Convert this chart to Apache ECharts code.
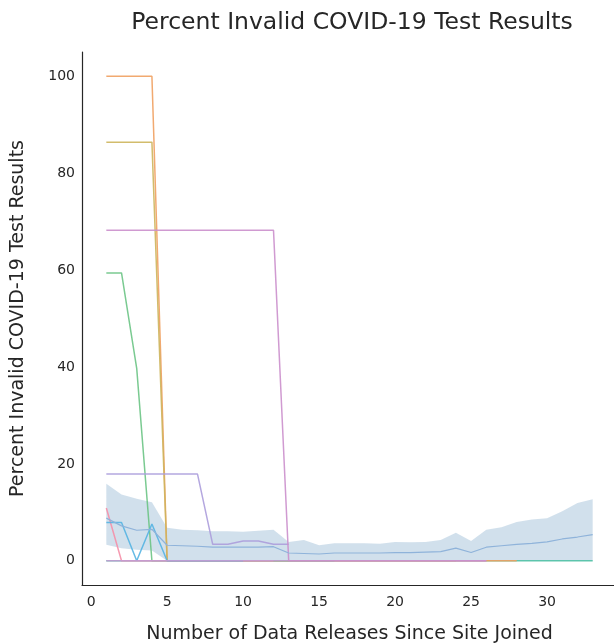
<!DOCTYPE html>
<html>
<head>
<meta charset="utf-8">
<script src="https://cdn.jsdelivr.net/npm/echarts@6/dist/echarts.min.js"></script>
<style>html,body{margin:0;padding:0;background:#fff}#c{width:614px;height:644px}</style>
</head>
<body>
<div id="c"></div>
<script>
// x positions: number of data releases since site joined
var releases = [1,2,3,4,5,6,7,8,9,10,11,12,13,14,15,16,17,18,19,20,21,22,23,24,25,26,27,28,29,30,31,32,33];
var xTicks = [0,5,10,15,20,25,30];
var yTicks = [0,20,40,60,80,100];

// aggregate line and its confidence band
var meanVals  = [8.8,7.2,6.3,6.5,3.2,3.1,3.0,2.8,2.8,2.8,2.8,2.9,1.6,1.5,1.4,1.6,1.6,1.6,1.6,1.7,1.7,1.8,1.9,2.6,1.7,2.8,3.1,3.4,3.6,3.9,4.5,4.9,5.4];
var upperVals = [15.9,13.7,12.8,12.1,6.8,6.4,6.3,6.1,6.1,6.0,6.2,6.4,3.9,4.3,3.2,3.6,3.6,3.6,3.5,3.9,3.8,3.9,4.3,5.8,4.1,6.4,6.9,8.0,8.5,8.8,10.2,11.9,12.7];
var lowerVals = [3.3,2.6,2.3,2.1,0,0,0,0,0,0,0,0,0,0,0,0,0,0,0,0,0,0,0,0,0,0,0,0,0,0,0,0,0];

// individual sites (null = not reported)
var siteTeal     = [0,0,0,0,0,0,0,0,0,0,0,0,0,0,0,0,0,0,0,0,0,0,0,0,0,0,0,0,0,0,0,0,0];
var siteOrange   = [100,100,100,100,0,0,0,0,0,0,0,0,0,0,0,0,0,0,0,0,0,0,0,0,0,0,0,0,null,null,null,null,null];
var siteOlive    = [86.4,86.4,86.4,86.4,0,0,0,0,0,0,0,0,0,0,0,0,0,0,0,0,0,0,0,0,null,null,null,null,null,null,null,null,null];
var siteGreen    = [59.4,59.4,39.7,0,0,0,0,0,0,0,0,0,0,0,0,0,null,null,null,null,null,null,null,null,null,null,null,null,null,null,null,null,null];
var sitePink     = [10.9,0,0,0,0,0,0,0,0,0,0,0,null,null,null,null,null,null,null,null,null,null,null,null,null,null,null,null,null,null,null,null,null];
var siteSky      = [7.9,7.9,0,7.6,0,0,0,0,0,0,null,null,null,null,null,null,null,null,null,null,null,null,null,null,null,null,null,null,null,null,null,null,null];
var sitePurple   = [0,0,0,0,0,0,0,0,0,0,0,0,0,0,0,0,0,0,0,0,0,0,0,0,0,0,null,null,null,null,null,null,null];
var siteLavender = [17.9,17.9,17.9,17.9,17.9,17.9,17.9,3.4,3.4,4.1,4.1,3.4,3.4,null,null,null,null,null,null,null,null,null,null,null,null,null,null,null,null,null,null,null,null];
var siteOrchid   = [68.2,68.2,68.2,68.2,68.2,68.2,68.2,68.2,68.2,68.2,68.2,68.2,0,0,0,0,0,0,0,0,0,0,0,0,0,0,null,null,null,null,null,null,null];

function pairs(vals){ return releases.map(function(x,i){ return [x, vals[i]]; }); }

function siteLine(name, vals, color){
  return { name:name, type:'line', data:pairs(vals), showSymbol:false, symbol:'none',
    connectNulls:false, lineStyle:{color:color, width:1.5, opacity:0.9}, itemStyle:{color:color}, z:3, silent:true };
}

var bandData = releases.map(function(x,i){ return [x, lowerVals[i], upperVals[i]]; });

var chart = echarts.init(document.getElementById('c'), null, {renderer:'canvas'});
var txt = '#262626';
var font = 'DejaVu Sans';
chart.setOption({
  animation:false,
  backgroundColor:'#ffffff',
  title:{ text:'Percent Invalid COVID-19 Test Results', left:347, top:6, textAlign:'center',
    textStyle:{ fontFamily:font, fontSize:23.5, fontWeight:'normal', color:txt } },
  grid:{ left:82, top:52, width:535, height:533, containLabel:false, outerBoundsMode:'none' },
  xAxis:{ type:'value', min:-0.6, max:34.6,
    name:'Number of Data Releases Since Site Joined', nameLocation:'middle', nameGap:40,
    nameTextStyle:{ fontFamily:font, fontSize:19, color:txt },
    axisLine:{ show:true, onZero:false, lineStyle:{ color:txt, width:1.2 } },
    axisTick:{ show:false },
    splitLine:{ show:false },
    axisLabel:{ customValues:xTicks, fontFamily:font, fontSize:14, color:txt, margin:10 } },
  yAxis:{ type:'value', min:-5, max:105,
    name:'Percent Invalid COVID-19 Test Results', nameLocation:'middle', nameGap:54, nameRotate:90,
    nameTextStyle:{ fontFamily:font, fontSize:19, color:txt },
    axisLine:{ show:true, onZero:false, lineStyle:{ color:txt, width:1.2 } },
    axisTick:{ show:false },
    splitLine:{ show:false },
    axisLabel:{ customValues:yTicks, fontFamily:font, fontSize:14, color:txt, margin:7 } },
  series:[
    { name:'band', type:'custom', data:bandData, encode:{ x:0, y:[1,2] }, silent:true, z:1, clip:true,
      renderItem:function(params, api){
        if (params.dataIndexInside !== 0) return;
        var top = [], bottom = [];
        for (var i = 0; i < bandData.length; i++) {
          top.push(api.coord([bandData[i][0], bandData[i][2]]));
          bottom.unshift(api.coord([bandData[i][0], bandData[i][1]]));
        }
        return { type:'polygon', shape:{ points: top.concat(bottom) },
          style:{ fill:'rgba(70,130,180,0.25)', stroke:null } };
      } },
    siteLine('teal', siteTeal, '#4fc0a4'),
    siteLine('orange', siteOrange, '#f0a060'),
    siteLine('olive', siteOlive, '#cdb55c'),
    siteLine('green', siteGreen, '#6cc485'),
    siteLine('pink', sitePink, '#f58fa8'),
    siteLine('sky', siteSky, '#55b4e2'),
    siteLine('purple', sitePurple, '#c49bd3'),
    siteLine('lavender', siteLavender, '#ac9ddb'),
    siteLine('orchid', siteOrchid, '#cb8fcc'),
    { name:'mean', type:'line', data:pairs(meanVals), symbol:'none', lineStyle:{ color:'#8fb3da', width:1.2 }, z:4, silent:true }
  ]
});
</script>
</body>
</html>
